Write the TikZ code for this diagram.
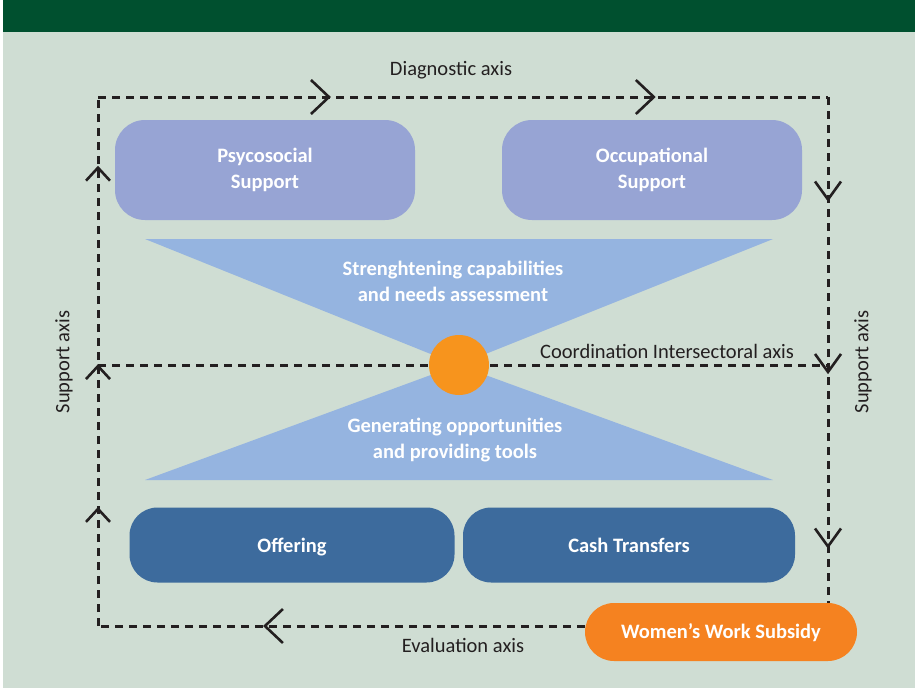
\documentclass[tikz,border=0pt]{standalone}
\usepackage{fontspec}
\setmainfont{Carlito}
\usetikzlibrary{arrows.meta,decorations.markings}

\definecolor{banner}{HTML}{00502F}
\definecolor{backgr}{HTML}{CFDDD3}
\definecolor{lilac}{HTML}{97A4D4}
\definecolor{skyblue}{HTML}{95B4E0}
\definecolor{steel}{HTML}{3D6B9D}
\definecolor{hubor}{HTML}{F7941D}
\definecolor{subor}{HTML}{F58220}
\definecolor{ink}{HTML}{231F20}

\begin{document}
\begin{tikzpicture}[x=1pt,y=-1pt]
\tikzset{box/.style = {rounded corners=30pt,draw=none,text=white,inner sep=0pt,align=center,font=\bfseries\fontsize{20.5}{26}\selectfont}}
\tikzset{upper/.style = {box,fill=lilac,minimum width=300pt,minimum height=100pt}}
\tikzset{lower/.style = {box,fill=steel,rounded corners=28pt,minimum height=75pt,text height=16pt,text depth=2pt}}
\tikzset{tritext/.style = {text=white,align=center,font=\bfseries\fontsize{20.5}{26}\selectfont}}
\tikzset{lbl/.style = {text=ink,font=\fontsize{20.5}{24}\selectfont}}
\tikzset{axis/.style = {ink,line width=3pt,dash pattern=on 8pt off 6pt,postaction={decorate}}}
\tikzset{big/.tip = {Straight Barb[length=18pt,width=34pt,line width=2.6pt]}}
\tikzset{mid/.tip = {Straight Barb[length=18pt,width=26pt,line width=2.6pt]}}
\tikzset{small/.tip = {Straight Barb[length=13pt,width=24pt,line width=2.6pt]}}

\useasboundingbox (0,0) rectangle (915,688);
\fill[white] (0,0) rectangle (915,688);
\fill[backgr] (3,32) rectangle (915,688);
\fill[banner] (3,0) rectangle (915,32);

% support boxes
\node[upper] (psy) at (265,170) {Psycosocial\\Support};
\node[upper] (occ) at (652,170) {Occupational\\Support};
\node[lower,minimum width=325pt] (off) at (292,545) {Offering};
\node[lower,minimum width=332pt] (cash) at (629,545) {Cash Transfers};
\node[box,fill=subor,rounded corners=29pt,minimum width=272pt,minimum height=58pt,text height=15.5pt,text depth=2.5pt] (sub) at (721,632) {Women’s Work Subsidy};

% triangles
\fill[skyblue] (145,239) -- (773,239) -- (458,365) -- cycle;
\fill[skyblue] (458,365) -- (773,480) -- (145,480) -- cycle;
\node[tritext] (strong) at (453,281) {Strenghtening capabilities\\and needs assessment};
\node[tritext] (gen) at (455,440) {Generating opportunities\\and providing tools};

% axes
\coordinate (tl) at (98,97);
\coordinate (tr) at (828,97);
\coordinate (bl) at (98,626);
\coordinate (ml) at (98,365);
\coordinate (mr) at (828,365);
\coordinate (rb) at (tr |- sub.north);
\coordinate (br) at (sub.west |- bl);

\draw[axis,decoration={markings,mark=at position 0.319 with {\arrow{big}},mark=at position 0.764 with {\arrow{big}}}] (tl) -- (tr);
\draw[axis,decoration={markings,mark=at position 0.207 with {\arrow{mid}},mark=at position 0.548 with {\arrow{mid}},mark=at position 0.893 with {\arrow{mid}}}] (tr) -- (rb);
\draw[axis,decoration={markings,mark=at position 0.661 with {\arrow{big}}}] (br) -- (bl);
\draw[axis,decoration={markings,mark=at position 0.225 with {\arrow{small}},mark=at position 0.495 with {\arrow{small}},mark=at position 0.87 with {\arrow{small}}}] (bl) -- (tl);
\draw[axis,postaction={}] (ml) -- (mr);

\node[circle,fill=hubor,minimum size=60pt,inner sep=0pt] (hub) at (459,365) {};

\node[lbl] (diag) at (451,70) {Diagnostic axis};
\node[lbl] (coord) at (667,351) {Coordination Intersectoral axis};
\node[lbl,rotate=90] (supl) at (64,362) {Support axis};
\node[lbl,rotate=90] (supr) at (863,362) {Support axis};
\node[lbl] (eval) at (463,645) {Evaluation axis};

\end{tikzpicture}
\end{document}
